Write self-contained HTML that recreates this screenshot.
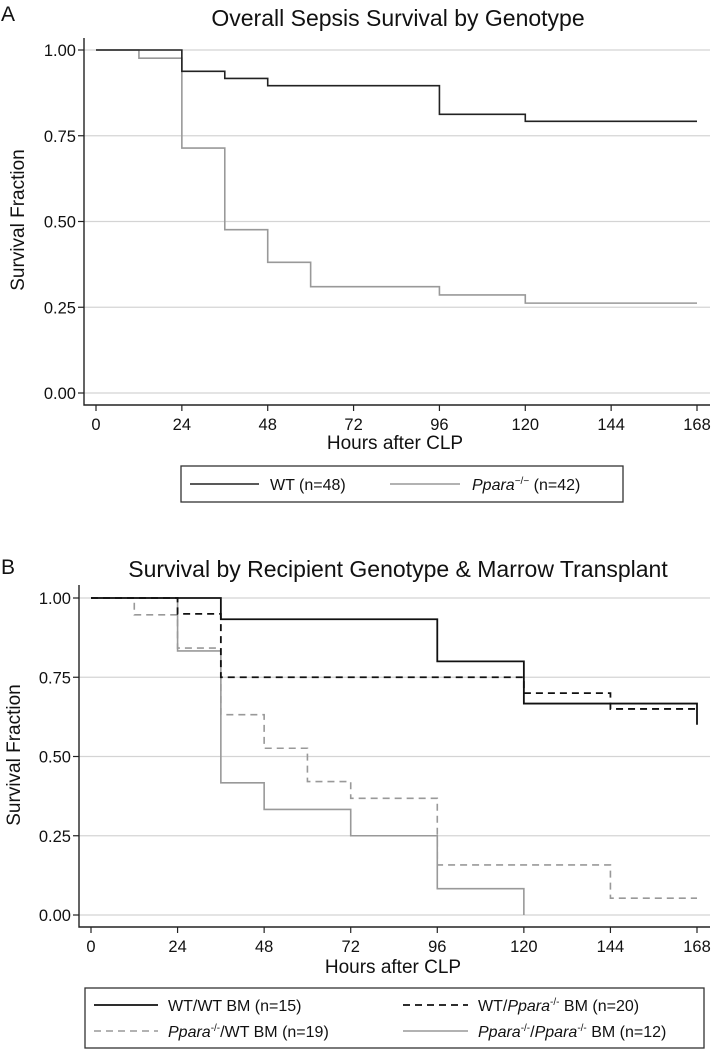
<!DOCTYPE html>
<html><head><meta charset="utf-8"><style>
body{margin:0;background:#fff;}
svg text{font-family:"Liberation Sans",sans-serif;fill:#111;}
</style></head><body>
<svg id="chart" width="712" height="1050" viewBox="0 0 712 1050" xmlns="http://www.w3.org/2000/svg">
<g id="gA"></g>
<g id="gB"></g>
</svg>
<script>
const xTicks = [0,24,48,72,96,120,144,168];
const yTicks = [0,0.25,0.5,0.75,1.0];
const yTickLabels = ["0.00","0.25","0.50","0.75","1.00"];
// Panel A
const aWTtimes = [0,24,36,48,96,120,168];
const aWTsurv  = [1.0,0.938,0.917,0.896,0.8125,0.792,0.792];
const aKOtimes = [0,12,24,36,48,60,96,120,168];
const aKOsurv  = [1.0,0.976,0.714,0.476,0.381,0.31,0.286,0.262,0.262];
// Panel B
const bWWtimes = [0,36,96,120,168];
const bWWsurv  = [1.0,0.933,0.8,0.667,0.6];
const bWKtimes = [0,24,36,120,144,168];
const bWKsurv  = [1.0,0.95,0.75,0.70,0.65,0.65];
const bKWtimes = [0,12,24,36,48,60,72,96,144,168];
const bKWsurv  = [1.0,0.947,0.842,0.632,0.526,0.421,0.368,0.158,0.053,0.053];
const bKKtimes = [0,24,36,48,72,96,120];
const bKKsurv  = [1.0,0.833,0.417,0.333,0.25,0.083,0.0];

const NS="http://www.w3.org/2000/svg";
function mk(parent,tag,attrs,text){const e=document.createElementNS(NS,tag);for(const k in attrs)e.setAttribute(k,attrs[k]);if(text!==undefined)e.textContent=text;parent.appendChild(e);return e;}

function panel(g,cfg){
  const X=t=>cfg.x0+(t/168)*(cfg.x168-cfg.x0);
  const Y=v=>cfg.y0+(v)*(cfg.y1-cfg.y0);
  yTicks.forEach((v,i)=>{
    const gl=mk(g,'line',{x1:cfg.axX,x2:cfg.right,y1:Y(v),y2:Y(v),stroke:'#d4d4d4','stroke-width':1.2});
    
    
    mk(g,'line',{x1:cfg.axX-6,x2:cfg.axX,y1:Y(v),y2:Y(v),stroke:'#222','stroke-width':1.2});
    const t=mk(g,'text',{x:cfg.axX-8,y:Y(v)+6,'text-anchor':'end','font-size':16.5},yTickLabels[i]);
    
    
  });
  xTicks.forEach(v=>{
    mk(g,'line',{x1:X(v),x2:X(v),y1:cfg.axY,y2:cfg.axY+6,stroke:'#222','stroke-width':1.2});
    const t=mk(g,'text',{x:X(v),y:cfg.axY+25,'text-anchor':'middle','font-size':16.5},v);
    
    
  });
  const ax=mk(g,'path',{d:`M${cfg.axX},${cfg.axTop} V${cfg.axY} H${cfg.right}`,fill:'none',stroke:'#222','stroke-width':1.4});
  
  
  cfg.series.forEach(s=>{
    let d=`M${X(s.t[0])},${Y(s.v[0])}`;
    for(let i=1;i<s.t.length;i++){d+=` H${X(s.t[i])} V${Y(s.v[i])}`;}
    const p=mk(g,'path',{d:d,fill:'none',stroke:s.c,'stroke-width':s.w,'stroke-dasharray':s.dash||'none'});
    
    
  });
}

const gA=document.getElementById('gA');
panel(gA,{x0:96,x168:697,y0:393,y1:50,axX:84,axY:405,axTop:38,right:710,series:[
  {t:aKOtimes,v:aKOsurv,c:'#999',w:1.6,name:'line-ppara-ko'},
  {t:aWTtimes,v:aWTsurv,c:'#222',w:1.6,name:'line-wt'}]});
const gB=document.getElementById('gB');
panel(gB,{x0:91,x168:697,y0:915,y1:598,axX:79,axY:927,axTop:585,right:710,series:[
  {t:bKKtimes,v:bKKsurv,c:'#999',w:1.6,name:'line-ko-ko-bm'},
  {t:bKWtimes,v:bKWsurv,c:'#999',w:1.6,dash:'7,5',name:'line-ko-wt-bm'},
  {t:bWKtimes,v:bWKsurv,c:'#111',w:1.8,dash:'7,5',name:'line-wt-ko-bm'},
  {t:bWWtimes,v:bWWsurv,c:'#111',w:1.8,name:'line-wt-wt-bm'}]});
</script>
<svg style="position:absolute;left:0;top:0" width="712" height="1050">
<text x="1" y="21" font-size="21">A</text>
<text x="398" y="26" font-size="23" text-anchor="middle">Overall Sepsis Survival by Genotype</text>
<text transform="translate(24,220) rotate(-90)" font-size="19" text-anchor="middle">Survival Fraction</text>
<text x="395" y="449" font-size="19" text-anchor="middle">Hours after CLP</text>
<g>
<rect x="181" y="466" width="442" height="36" fill="none" stroke="#333" stroke-width="1.3"/>
<line x1="190" x2="259" y1="484" y2="484" stroke="#222" stroke-width="1.6"/>
<text x="270" y="490" font-size="16">WT (n=48)</text>
<line x1="390" x2="460" y1="484" y2="484" stroke="#999" stroke-width="1.6"/>
<text x="472" y="490" font-size="16"><tspan font-style="italic">Ppara</tspan><tspan font-size="10" dy="-6">−/−</tspan><tspan dy="6"> (n=42)</tspan></text>
</g>
<text x="1" y="574" font-size="21">B</text>
<text x="398" y="577" font-size="23" text-anchor="middle">Survival by Recipient Genotype &amp; Marrow Transplant</text>
<text transform="translate(20,755) rotate(-90)" font-size="19" text-anchor="middle">Survival Fraction</text>
<text x="393" y="973" font-size="19" text-anchor="middle">Hours after CLP</text>
<g>
<rect x="85" y="988" width="619" height="60" fill="none" stroke="#333" stroke-width="1.3"/>
<line x1="94" x2="158" y1="1005" y2="1005" stroke="#111" stroke-width="1.8"/>
<text x="168" y="1011" font-size="16">WT/WT BM (n=15)</text>
<line x1="403" x2="468" y1="1005" y2="1005" stroke="#111" stroke-width="1.8" stroke-dasharray="7,5"/>
<text x="478" y="1011" font-size="16">WT/<tspan font-style="italic">Ppara</tspan><tspan font-size="10" dy="-6">-/-</tspan><tspan dy="6"> BM (n=20)</tspan></text>
<line x1="94" x2="158" y1="1031" y2="1031" stroke="#999" stroke-width="1.6" stroke-dasharray="7,5"/>
<text x="168" y="1037" font-size="16"><tspan font-style="italic">Ppara</tspan><tspan font-size="10" dy="-6">-/-</tspan><tspan dy="6">/WT BM (n=19)</tspan></text>
<line x1="403" x2="468" y1="1031" y2="1031" stroke="#999" stroke-width="1.6"/>
<text x="478" y="1037" font-size="16"><tspan font-style="italic">Ppara</tspan><tspan font-size="10" dy="-6">-/-</tspan><tspan dy="6">/</tspan><tspan font-style="italic">Ppara</tspan><tspan font-size="10" dy="-6">-/-</tspan><tspan dy="6"> BM (n=12)</tspan></text>
</g>
</svg>
</body></html>
